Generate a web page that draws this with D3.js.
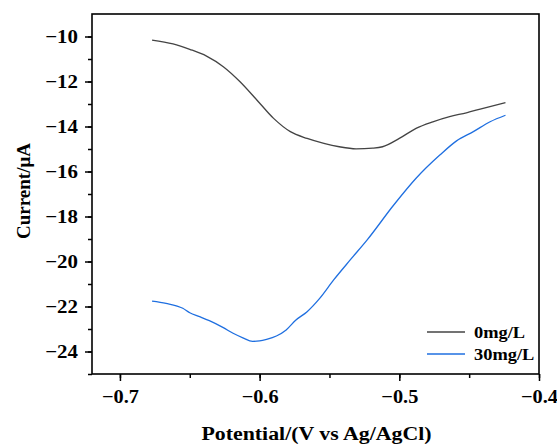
<!DOCTYPE html>
<html>
<head>
<meta charset="utf-8">
<script src="https://cdn.jsdelivr.net/npm/d3@7"></script>
<style>
body { margin: 0; background: #fff; }
text { font-family: "Liberation Serif", "Times New Roman", serif; font-weight: bold; }
</style>
</head>
<body>
<svg id="chart" width="557" height="444"></svg>
<script>
var X_TICKS = [-0.7, -0.6, -0.5, -0.4];
var Y_TICKS = [-24, -22, -20, -18, -16, -14, -12, -10];
var SERIES_NAMES = ["0mg/L", "30mg/L"];
var SERIES_COLORS = ["#444444", "#1f6fe0"];

// 0mg/L curve, [potential, current]
var BLANK = [
	[-0.677, -10.16], [-0.662, -10.33], [-0.650, -10.57], [-0.638, -10.87],
	[-0.626, -11.34], [-0.614, -12.01], [-0.602, -12.82], [-0.590, -13.64],
	[-0.578, -14.23], [-0.566, -14.53], [-0.554, -14.75], [-0.543, -14.90],
	[-0.531, -14.99], [-0.519, -14.96], [-0.512, -14.90], [-0.500, -14.53],
	[-0.488, -14.08], [-0.476, -13.79], [-0.464, -13.56], [-0.452, -13.39],
	[-0.440, -13.19], [-0.424, -12.94]
];

// 30mg/L curve
var DOSED = [
	[-0.677, -21.76], [-0.667, -21.86], [-0.655, -22.08], [-0.650, -22.28],
	[-0.643, -22.45], [-0.636, -22.63], [-0.626, -22.94], [-0.619, -23.19],
	[-0.612, -23.39], [-0.605, -23.55], [-0.600, -23.53], [-0.595, -23.46],
	[-0.588, -23.31], [-0.581, -23.04], [-0.574, -22.60], [-0.566, -22.23],
	[-0.557, -21.64], [-0.547, -20.82], [-0.535, -19.92], [-0.523, -19.04],
	[-0.504, -17.49], [-0.488, -16.30], [-0.471, -15.27], [-0.459, -14.64],
	[-0.447, -14.23], [-0.435, -13.79], [-0.424, -13.50]
];

// text in the original is a bit wider than Times
var FONT = "Liberation Serif, Times New Roman, serif";

var margin = { left: 92, top: 14, right: 18, bottom: 70 };
var W = 557, H = 444;
var svg = d3.select("#chart");

var x = d3.scaleLinear().domain([-0.72, -0.4]).range([margin.left, W - margin.right]);
var y = d3.scaleLinear().domain([-25, -9]).range([H - margin.bottom, margin.top]);

function stretch(k) {
	return function(sel) {
		sel.each(function() {
			var t = d3.select(this);
			var tx = +t.attr("x") || 0;
			t.attr("x", tx / k).attr("transform", "scale(" + k + ",1)");
		});
	};
}

// minor ticks
var xMinor = d3.range(-0.7, -0.39, 0.05);
var yMinor = d3.range(-25, -9.5, 1);

svg.append("g")
	.attr("transform", "translate(0," + (H - margin.bottom) + ")")
	.call(d3.axisBottom(x).tickValues(xMinor).tickSize(4).tickFormat(""))
	.call(function(g) { g.select(".domain").remove(); g.selectAll("line").attr("stroke-width", 1.5); });

svg.append("g")
	.attr("transform", "translate(" + margin.left + ",0)")
	.call(d3.axisLeft(y).tickValues(yMinor).tickSize(4).tickFormat(""))
	.call(function(g) { g.select(".domain").remove(); g.selectAll("line").attr("stroke-width", 1.5); });

var xAxis = svg.append("g")
	.attr("transform", "translate(0," + (H - margin.bottom) + ")")
	.call(d3.axisBottom(x).tickValues(X_TICKS).tickSize(7).tickPadding(9).tickFormat(d3.format(".1f")));
xAxis.attr("font-family", FONT).attr("font-size", 19).attr("font-weight", "bold");
xAxis.select(".domain").remove();
xAxis.selectAll("line").attr("stroke-width", 1.5);
xAxis.selectAll("text").attr("fill", "#000").call(stretch(1.07));

var yAxis = svg.append("g")
	.attr("transform", "translate(" + margin.left + ",0)")
	.call(d3.axisLeft(y).tickValues(Y_TICKS).tickSize(7).tickPadding(7));
yAxis.attr("font-family", FONT).attr("font-size", 19).attr("font-weight", "bold");
yAxis.select(".domain").remove();
yAxis.selectAll("line").attr("stroke-width", 1.5);
yAxis.selectAll("text").attr("fill", "#000").call(stretch(1.1));

// frame
svg.append("rect")
	.attr("x", margin.left).attr("y", margin.top)
	.attr("width", W - margin.left - margin.right)
	.attr("height", H - margin.top - margin.bottom)
	.attr("fill", "none").attr("stroke", "#000").attr("stroke-width", 1.6);

var line = d3.line()
	.curve(d3.curveMonotoneX)
	.x(function(d) { return x(d[0]); })
	.y(function(d) { return y(d[1]); });

[BLANK, DOSED].forEach(function(data, i) {
	svg.append("path")
		.datum(data)
		.attr("d", line)
		.attr("fill", "none")
		.attr("stroke", SERIES_COLORS[i])
		.attr("stroke-width", 1.3);
});

// legend
var legend = svg.append("g").attr("transform", "translate(427,332)");
SERIES_NAMES.forEach(function(name, i) {
	var row = legend.append("g").attr("transform", "translate(0," + i * 22 + ")");
	row.append("line").attr("x1", 0).attr("x2", 38).attr("y1", 0).attr("y2", 0)
		.attr("stroke", SERIES_COLORS[i]).attr("stroke-width", 1.3);
	row.append("text").attr("x", 47).attr("y", 5.5).attr("font-size", 16).text(name).call(stretch(1.15));
});

// axis titles
svg.append("text")
	.attr("x", (x(-0.72) + x(-0.4)) / 2 + 1)
	.attr("y", 440)
	.attr("text-anchor", "middle")
	.attr("font-size", 19)
	.text("Potential/(V vs Ag/AgCl)")
	.call(stretch(1.15));

svg.append("text")
	.attr("transform", "translate(30," + (y(-17) - 3) + ") rotate(-90)")
	.attr("text-anchor", "middle")
	.attr("font-size", 19)
	.text("Current/μA");
</script>
</body>
</html>
